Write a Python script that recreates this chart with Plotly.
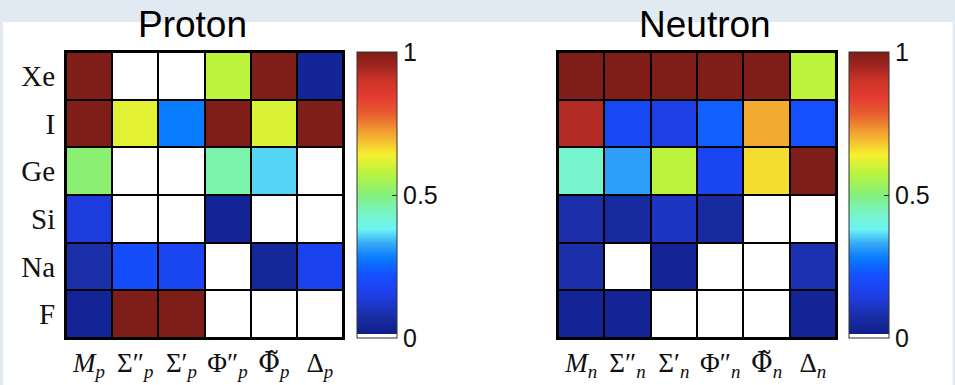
import plotly.graph_objects as go

W, H = 955, 385

elements = ["Xe", "I", "Ge", "Si", "Na", "F"]
TILDE_PHI = '<span style="font-family:DejaVu Serif">Φ\u0303</span>'
proton_labels = ["<i>M</i><sub><i>p</i></sub>", "Σ″<sub><i>p</i></sub>", "Σ′<sub><i>p</i></sub>",
                 "Φ″<sub><i>p</i></sub>", TILDE_PHI + "<sub><i>p</i></sub>", "Δ<sub><i>p</i></sub>"]
neutron_labels = ["<i>M</i><sub><i>n</i></sub>", "Σ″<sub><i>n</i></sub>", "Σ′<sub><i>n</i></sub>",
                  "Φ″<sub><i>n</i></sub>", TILDE_PHI + "<sub><i>n</i></sub>", "Δ<sub><i>n</i></sub>"]

# rows: Xe, I, Ge, Si, Na, F ; 0 = not present (white)
proton_values = [
    [1.00, 0.00, 0.00, 0.58, 1.00, 0.04],
    [1.00, 0.62, 0.28, 1.00, 0.61, 1.00],
    [0.51, 0.00, 0.00, 0.46, 0.36, 0.00],
    [0.14, 0.00, 0.00, 0.04, 0.00, 0.00],
    [0.08, 0.21, 0.18, 0.00, 0.05, 0.17],
    [0.04, 1.00, 1.00, 0.00, 0.00, 0.00],
]
neutron_values = [
    [1.00, 1.00, 1.00, 1.00, 1.00, 0.58],
    [0.93, 0.19, 0.15, 0.24, 0.71, 0.22],
    [0.43, 0.32, 0.58, 0.18, 0.66, 1.00],
    [0.08, 0.06, 0.11, 0.06, 0.00, 0.00],
    [0.08, 0.00, 0.04, 0.00, 0.00, 0.09],
    [0.04, 0.04, 0.00, 0.00, 0.00, 0.04],
]
cbar_tickvals = [0, 0.5, 1]
cbar_ticktext = ["0", "0.5", "1"]
titles = ["Proton", "Neutron"]

colorscale = [
    [0.0, "#ffffff"], [0.014, "#ffffff"], [0.014, "#0f1f8a"],
    [0.08, "#1a2fa8"], [0.15, "#1e3ee6"], [0.22, "#1450ff"],
    [0.28, "#0a7cff"], [0.33, "#36a8f8"], [0.38, "#6cf4f4"],
    [0.44, "#78f4c4"], [0.5, "#84f07a"], [0.58, "#bcf43c"],
    [0.64, "#f6f030"], [0.72, "#f2a030"], [0.78, "#e86030"],
    [0.84, "#e43c30"], [0.90, "#cc3428"], [0.95, "#a02420"],
    [1.0, "#7f1d18"],
]

def px(x):
    return x / W

def py(y):
    return 1 - y / H

grid_top, grid_bot = 52, 338
panels = [
    dict(x0=66, x1=343, cb=357, tx=192, labels=proton_labels, z=proton_values, showy=True),
    dict(x0=558, x1=836, cb=849, tx=705, labels=neutron_labels, z=neutron_values, showy=False),
]

fig = go.Figure()
serif = "Liberation Serif, Times New Roman, serif"
sans = "Liberation Sans, Arial, sans-serif"

for i, p in enumerate(panels):
    ax = "" if i == 0 else str(i + 1)
    fig.add_trace(go.Heatmap(
        z=p["z"], x=p["labels"], y=elements,
        xaxis="x" + ax, yaxis="y" + ax,
        zmin=0, zmax=1, colorscale=colorscale,
        xgap=2, ygap=2,
        colorbar=dict(
            x=px(p["cb"]), xanchor="left", xpad=0,
            y=py(grid_top), yanchor="top", ypad=0,
            len=(grid_bot - grid_top) / H, lenmode="fraction",
            thickness=40, thicknessmode="pixels",
            outlinecolor="#333333", outlinewidth=1,
            tickvals=cbar_tickvals, ticktext=cbar_ticktext,
            ticks="inside", ticklen=5, tickcolor="#222222",
            tickfont=dict(family=sans, size=25, color="#111111"),
        ),
    ))
    fig.layout["xaxis" + ax] = dict(
        domain=[px(p["x0"]), px(p["x1"])], anchor="y" + ax,
        showline=True, mirror=True, linecolor="black", linewidth=2,
        ticks="", showgrid=False, zeroline=False, tickangle=0,
        tickfont=dict(family=serif, size=27, color="#111111"),
    )
    fig.layout["yaxis" + ax] = dict(
        domain=[py(grid_bot), py(grid_top)], anchor="x" + ax,
        autorange="reversed",
        showline=True, mirror=True, linecolor="black", linewidth=2,
        ticks="", showgrid=False, zeroline=False,
        showticklabels=p["showy"], ticklabelstandoff=3,
        tickfont=dict(family=serif, size=29, color="#111111"),
    )
    fig.add_annotation(
        text=titles[i], xref="paper", yref="paper",
        x=px(p["tx"]), y=py(24), xanchor="center", yanchor="middle",
        showarrow=False, font=dict(family=sans, size=37, color="black"),
    )

strip = "#e1e9f3"
fig.add_shape(type="rect", xref="paper", yref="paper", x0=0, x1=1, y0=py(22), y1=1,
              fillcolor=strip, line_width=0, layer="below")
fig.add_shape(type="rect", xref="paper", yref="paper", x0=0, x1=px(3), y0=0, y1=1,
              fillcolor=strip, line_width=0, layer="below")
fig.add_shape(type="rect", xref="paper", yref="paper", x0=px(952.7), x1=1, y0=0, y1=1,
              fillcolor=strip, line_width=0, layer="below")

fig.update_layout(
    width=W, height=H, margin=dict(l=0, r=0, t=0, b=0),
    paper_bgcolor="white", plot_bgcolor="black",
    showlegend=False,
)

fig.write_html("out.html", config={"displayModeBar": False},
               post_script="document.body.style.margin='0';document.body.style.padding='0';")
